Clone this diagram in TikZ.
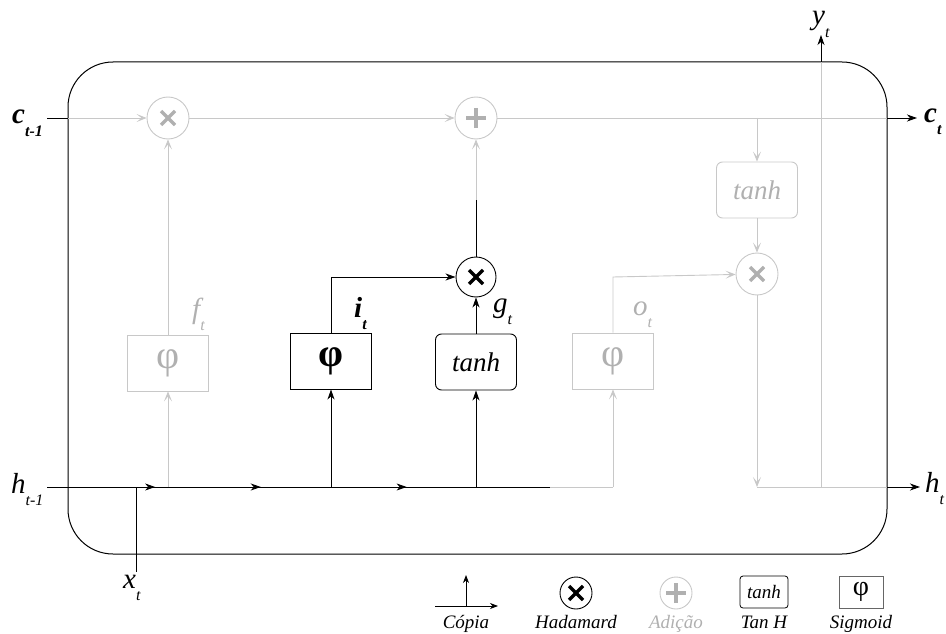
\documentclass[tikz,border=0pt]{standalone}
\usepackage{fontspec}
\setmainfont{Liberation Serif}
\usetikzlibrary{arrows.meta,decorations.markings}
\definecolor{lg}{HTML}{C8C8C8}
\definecolor{tg}{HTML}{B0B0B0}
\newcommand\symlab[2]{\fontsize{29}{29}\selectfont\itshape #1\raisebox{-0.42em}{\fontsize{16}{16}\selectfont #2}}
\tikzset{
  blk/.style={black, line width=0.9pt},
  gry/.style={lg, line width=0.9pt},
  bar/.style={-{Stealth[length=10pt,width=7pt,inset=3pt]}},
  gar/.style={-{Stealth[length=10pt,width=8pt,inset=5pt]}},
  gatebox/.style={rectangle, minimum width=81pt, minimum height=56pt, inner sep=0pt, line width=0.9pt},
  crc/.style={circle, minimum size=42pt, inner sep=0pt, line width=0.9pt},
  crossmark/.style={path picture={
     \draw[#1, line width=3.2pt] ([shift={(-7pt,-7pt)}]path picture bounding box.center) -- ([shift={(7pt,7pt)}]path picture bounding box.center);
     \draw[#1, line width=3.2pt] ([shift={(-7pt,7pt)}]path picture bounding box.center) -- ([shift={(7pt,-7pt)}]path picture bounding box.center);}},
  plusmark/.style={path picture={
     \draw[#1, line width=3.2pt] ([shift={(-10pt,0pt)}]path picture bounding box.center) -- ([shift={(10pt,0pt)}]path picture bounding box.center);
     \draw[#1, line width=3.2pt] ([shift={(0pt,-10pt)}]path picture bounding box.center) -- ([shift={(0pt,10pt)}]path picture bounding box.center);}},
  lbl/.style={inner sep=0pt, anchor=base west},
  leg/.style={inner sep=0pt, anchor=base, font=\fontsize{19}{19}\selectfont\itshape},
}
\begin{document}
\begin{tikzpicture}[x=1pt,y=-1pt]
\useasboundingbox (0,0) rectangle (946,634);
% outer cell
\draw[black, line width=1pt, rounded corners=45pt] (68,62) rectangle (887,554);

% nodes
\node[gatebox, draw=lg, text=tg, font=\fontsize{40}{40}\selectfont] (fbox) at (168,363) {φ};
\node[gatebox, draw=black, font=\fontsize{40}{40}\selectfont\bfseries] (ibox) at (331,361) {φ};
\node[gatebox, draw=black, rounded corners=6pt, font=\fontsize{27}{27}\selectfont\itshape] (gbox) at (476,362) {tanh};
\node[gatebox, draw=lg, text=tg, font=\fontsize{40}{40}\selectfont] (obox) at (613,361) {φ};
\node[gatebox, draw=lg, text=tg, rounded corners=6pt, font=\fontsize{27}{27}\selectfont\itshape] (tbox) at (757,190) {tanh};

\node[crc, draw=lg, crossmark=tg] (fx) at (168,118) {};
\node[crc, draw=lg, plusmark=tg] (add) at (476,118) {};
\node[crc, minimum size=40pt, draw=black, crossmark=black] (had) at (476,277) {};
\node[crc, draw=lg, crossmark=tg] (ox) at (757,274) {};

% coordinates
\coordinate (cin) at (47,118);
\coordinate (cL) at (68,118);
\coordinate (cR) at (887,118);
\coordinate (cout) at (917,118);
\coordinate (ctap) at (757,118);
\coordinate (hin) at (47,487);
\coordinate (hblk) at (550,487);
\coordinate (hgo) at (613,487);
\coordinate (hf) at (168,487);
\coordinate (hi) at (331,487);
\coordinate (hg) at (476,487);
\coordinate (hx) at (136,487);
\coordinate (xend) at (136,572);
\coordinate (oturn) at (613,277);
\coordinate (iturn) at (331,277);
\coordinate (hadup) at (476,200);
\coordinate (hR0) at (757,487);
\coordinate (hR) at (887,487);
\coordinate (hout) at (920,487);
\coordinate (ybase) at (821,487);
\coordinate (ytop) at (821,62);
\coordinate (yout) at (821,35);

% cell state line
\draw[blk] (cin) -- (cL);
\draw[gry, gar] (cL) -- (fx);
\draw[gry, gar] (fx) -- (add);
\draw[gry] (add) -- (cR);
\draw[blk, bar] (cR) -- (cout);
\draw[gry, gar] (ctap) -- (tbox);
\draw[gry, gar] (tbox) -- (ox);

% hidden input line
\draw[blk, postaction={decorate}, decoration={markings,
   mark=at position 0.215 with {\arrow{Stealth[length=10pt,width=7pt,inset=3pt]}},
   mark=at position 0.425 with {\arrow{Stealth[length=10pt,width=7pt,inset=3pt]}},
   mark=at position 0.715 with {\arrow{Stealth[length=10pt,width=7pt,inset=3pt]}}}] (hin) -- (hblk);
\draw[gry] (hblk) -- (hgo);
\draw[gry, gar] (hgo) -- (obox);
\draw[blk] (hx) -- (xend);

% gates
\draw[gry, gar] (hf) -- (fbox);
\draw[gry, gar] (fbox) -- (fx);
\draw[blk, bar] (hi) -- (ibox);
\draw[blk, bar] (ibox.north) -- (iturn) -- (had);
\draw[blk, bar] (hg) -- (gbox);
\draw[blk, bar] (gbox) -- (had);
\draw[gry, gar] (had) -- (add);
\draw[blk] (had.north) -- (hadup);
\draw[gry, gar] (obox.north) -- (oturn) -- (ox);

% output
\draw[gry, gar] (ox) -- (hR0);
\draw[gry] (hR0) -- (hR);
\draw[blk, bar] (hR) -- (hout);
\draw[gry] (ybase) -- (ytop);
\draw[blk, bar] (ytop) -- (yout);

% labels
\node[lbl] (lc0) at (12,124) {\bfseries\symlab{c}{t-1}};
\node[lbl] (lh0) at (11,493) {\symlab{h}{t-1}};
\node[lbl] (lx) at (123,588) {\symlab{x}{t}};
\node[lbl] (ly) at (812,25) {\symlab{y}{t}};
\node[lbl] (lc) at (924,122) {\bfseries\symlab{c}{t}};
\node[lbl] (lh) at (925,492) {\symlab{h}{t}};
\node[lbl, text=tg] (lf) at (192,318) {\symlab{f}{t}};
\node[lbl] (li) at (354,317) {\bfseries\symlab{i}{t}};
\node[lbl] (lg) at (493,312) {\symlab{g}{t}};
\node[lbl, text=tg] (lo) at (633,315) {\symlab{o}{t}};

% legend
\coordinate (cpL) at (435,606);
\coordinate (cpR) at (498,606);
\coordinate (cpM) at (466,606);
\coordinate (cpU) at (466,575);
\draw[blk, line width=0.8pt, -{Stealth[length=8pt,width=6pt,inset=2.5pt]}] (cpL) -- (cpR);
\draw[blk, line width=0.8pt, -{Stealth[length=8pt,width=6pt,inset=2.5pt]}] (cpM) -- (cpU);
\node[crc, minimum size=32pt, draw=black, crossmark=black] (lhad) at (576,593) {};
\node[crc, minimum size=32pt, draw=lg, plusmark=tg] (ladd) at (676,593) {};
\node[rectangle, draw=black, line width=0.8pt, rounded corners=3pt, minimum width=48pt, minimum height=32pt, inner sep=0pt, font=\fontsize{19}{19}\selectfont\itshape] (ltanh) at (764,592) {tanh};
\node[rectangle, draw=black!60, line width=0.8pt, minimum width=44pt, minimum height=32pt, inner sep=0pt, font=\fontsize{28}{28}\selectfont] (lsig) at (861,592) {φ};
\node[leg] (tc) at (466,628) {Cópia};
\node[leg] (th) at (576,628) {Hadamard};
\node[leg, text=tg] (ta) at (676,628) {Adição};
\node[leg] (tt) at (764,628) {Tan H};
\node[leg] (ts) at (861,628) {Sigmoid};
\end{tikzpicture}
\end{document}
